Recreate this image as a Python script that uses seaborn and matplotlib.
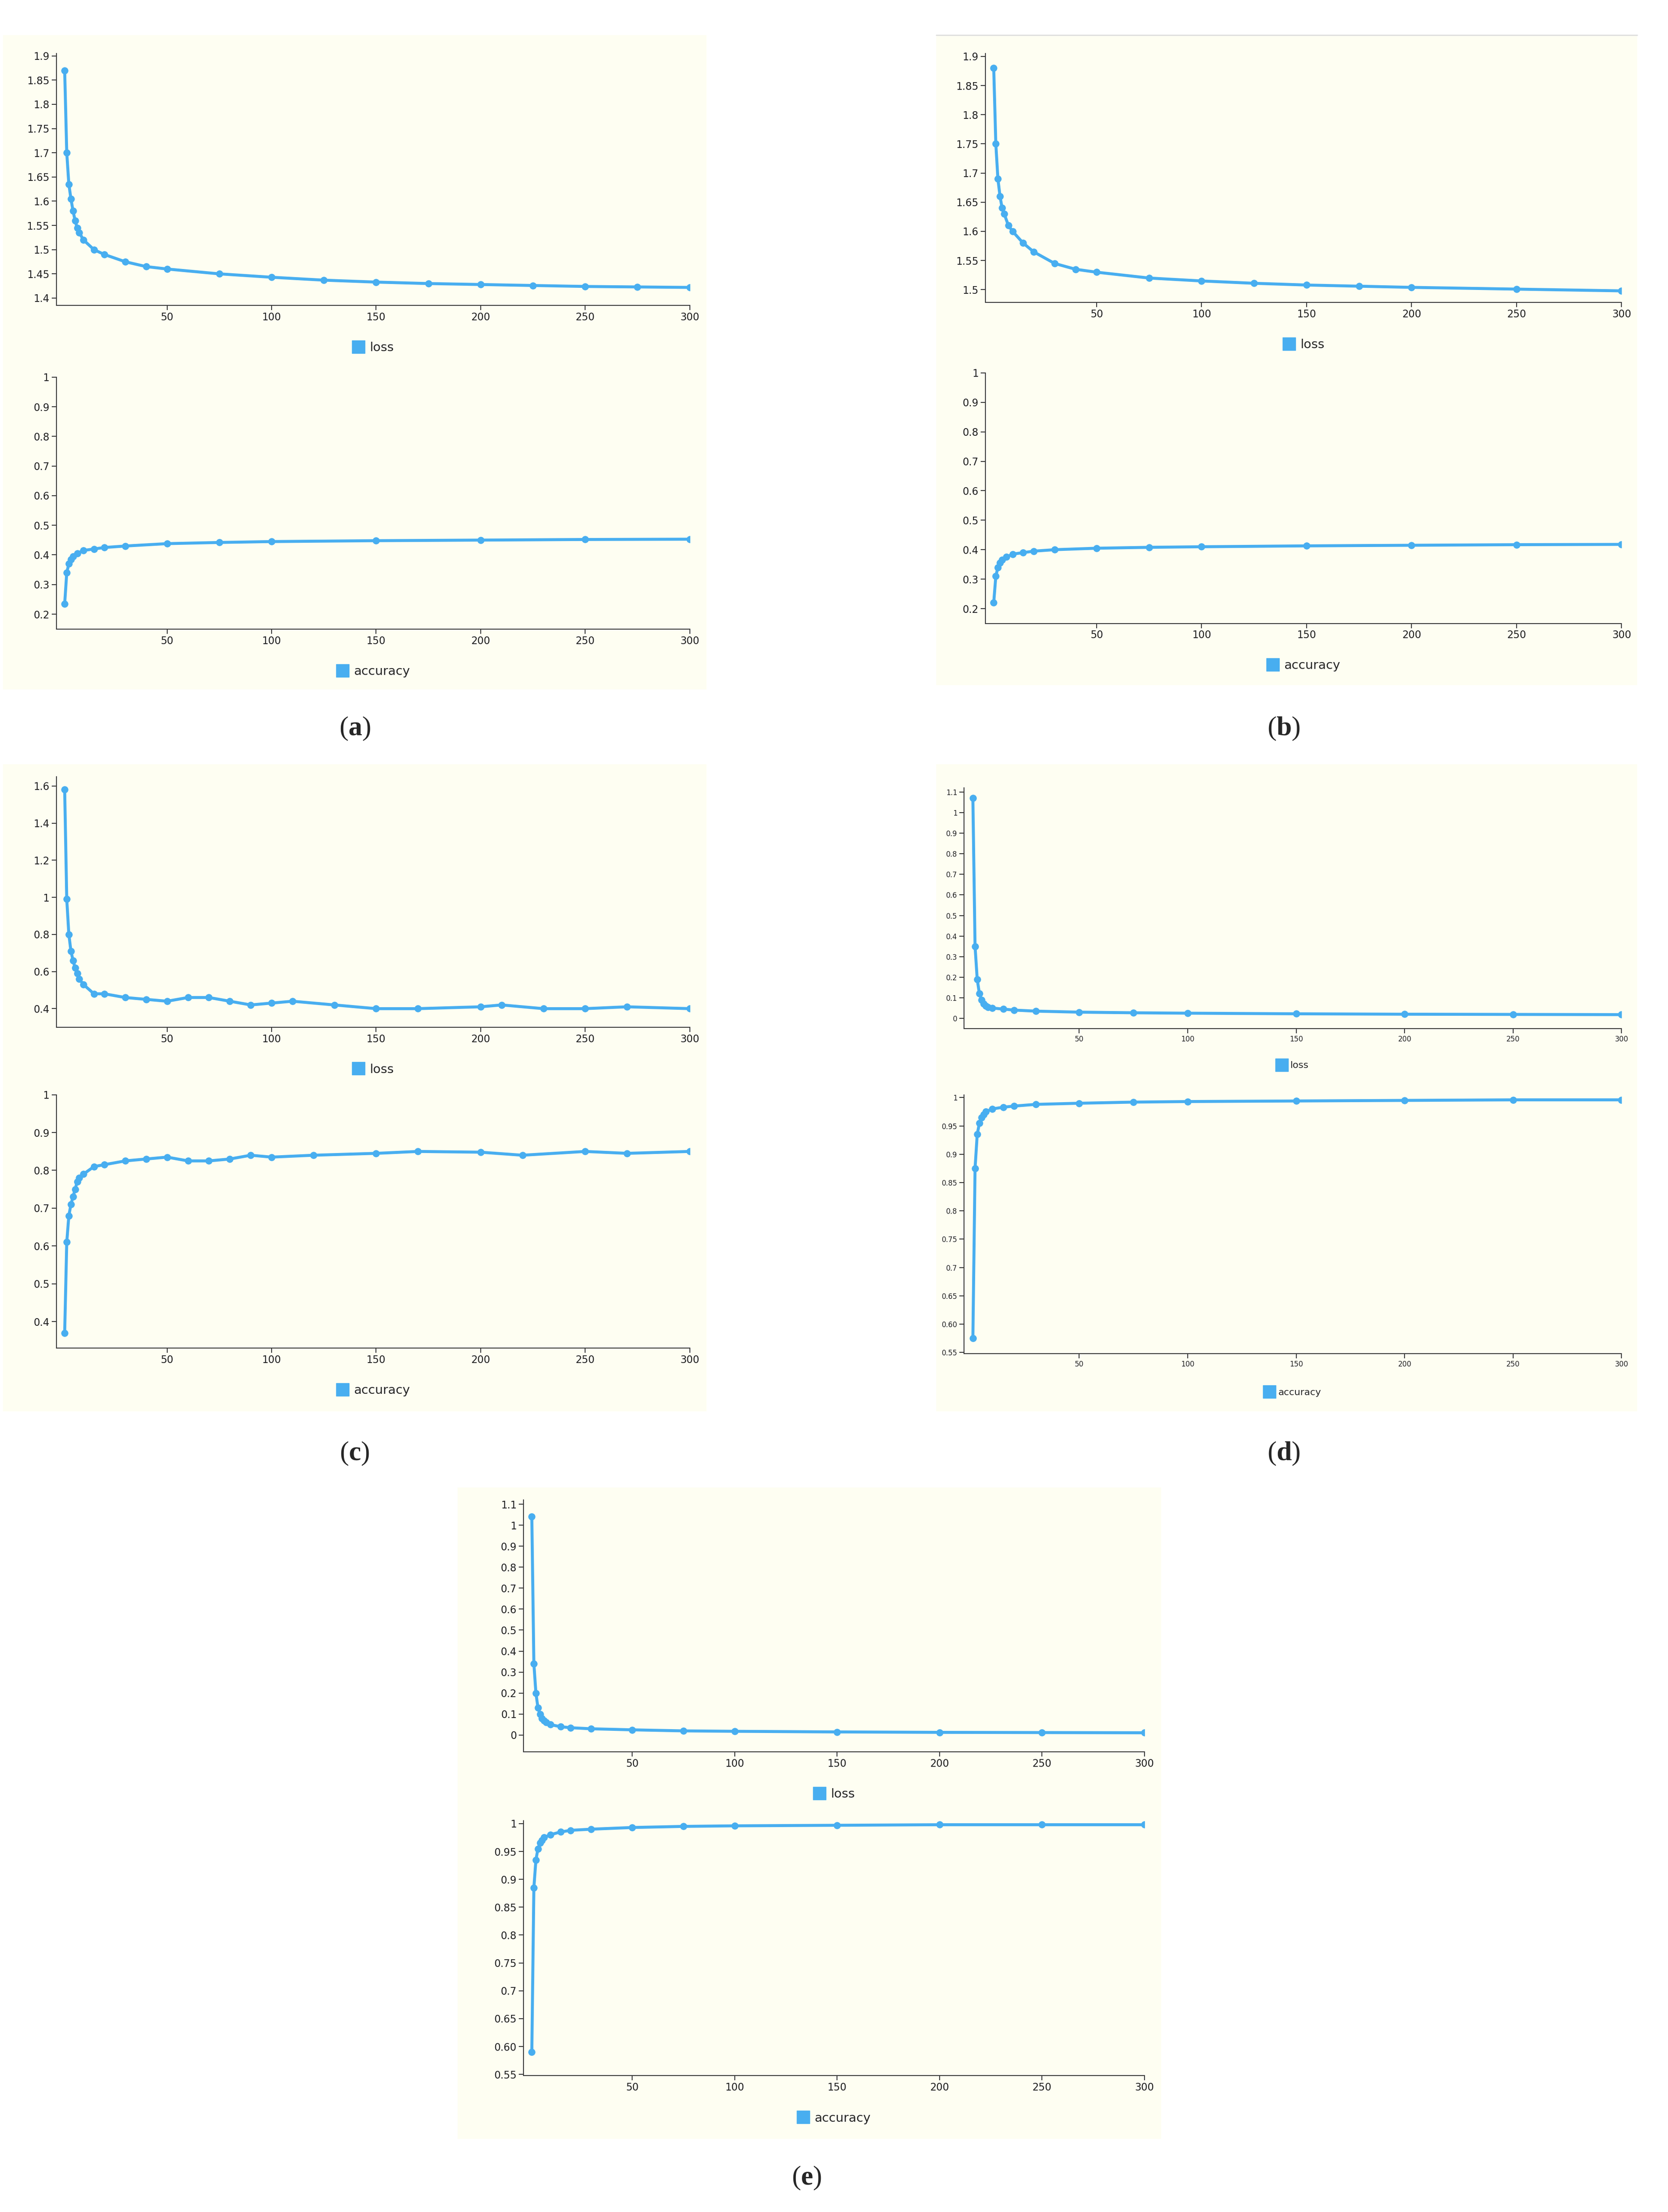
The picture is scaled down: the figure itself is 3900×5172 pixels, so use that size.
import matplotlib
matplotlib.use("Agg")
import matplotlib.pyplot as plt
from matplotlib.lines import Line2D
from matplotlib.patches import Rectangle
import seaborn as sns
import pandas as pd

sns.set_theme(style="white")
plt.rcParams['font.family'] = ['DejaVu Sans']
plt.rcParams['mathtext.fontset'] = 'custom'
plt.rcParams['mathtext.rm'] = 'Liberation Serif'
plt.rcParams['mathtext.bf'] = 'Liberation Serif:bold'

COLOR = "#48aef0"
BG = "#fefef2"

# ---------------- data ----------------
a_loss_ep = [1,2,3,4,5,6,7,8,10,15,20,30,40,50,75,100,125,150,175,200,225,250,275,300]
a_loss = [1.87,1.70,1.635,1.605,1.58,1.56,1.545,1.535,1.52,1.50,1.49,1.475,1.465,1.46,1.45,1.443,1.437,1.433,1.43,1.428,1.426,1.424,1.423,1.422]
a_acc_ep = [1,2,3,4,5,7,10,15,20,30,50,75,100,150,200,250,300]
a_acc = [0.235,0.34,0.37,0.385,0.395,0.405,0.415,0.42,0.425,0.43,0.438,0.442,0.445,0.448,0.45,0.452,0.453]

b_loss_ep = [1,2,3,4,5,6,8,10,15,20,30,40,50,75,100,125,150,175,200,250,300]
b_loss = [1.88,1.75,1.69,1.66,1.64,1.63,1.61,1.60,1.58,1.565,1.545,1.535,1.53,1.52,1.515,1.511,1.508,1.506,1.504,1.501,1.498]
b_acc_ep = [1,2,3,4,5,7,10,15,20,30,50,75,100,150,200,250,300]
b_acc = [0.22,0.31,0.34,0.355,0.365,0.375,0.385,0.39,0.395,0.4,0.405,0.408,0.41,0.413,0.415,0.417,0.418]

c_loss_ep = [1,2,3,4,5,6,7,8,10,15,20,30,40,50,60,70,80,90,100,110,130,150,170,200,210,230,250,270,300]
c_loss = [1.58,0.99,0.80,0.71,0.66,0.62,0.59,0.56,0.53,0.48,0.48,0.46,0.45,0.44,0.46,0.46,0.44,0.42,0.43,0.44,0.42,0.40,0.40,0.41,0.42,0.40,0.40,0.41,0.40]
c_acc_ep = [1,2,3,4,5,6,7,8,10,15,20,30,40,50,60,70,80,90,100,120,150,170,200,220,250,270,300]
c_acc = [0.37,0.61,0.68,0.71,0.73,0.75,0.77,0.78,0.79,0.81,0.815,0.825,0.83,0.835,0.825,0.825,0.83,0.84,0.835,0.84,0.845,0.85,0.848,0.84,0.85,0.845,0.85]

d_loss_ep = [1,2,3,4,5,6,7,8,10,15,20,30,50,75,100,150,200,250,300]
d_loss = [1.07,0.35,0.19,0.12,0.09,0.07,0.06,0.055,0.05,0.045,0.04,0.035,0.03,0.027,0.025,0.022,0.02,0.019,0.018]
d_acc_ep = [1,2,3,4,5,6,7,10,15,20,30,50,75,100,150,200,250,300]
d_acc = [0.575,0.875,0.935,0.955,0.965,0.97,0.975,0.98,0.983,0.985,0.988,0.99,0.992,0.993,0.994,0.995,0.996,0.996]

e_loss_ep = [1,2,3,4,5,6,7,8,10,15,20,30,50,75,100,150,200,250,300]
e_loss = [1.04,0.34,0.20,0.13,0.10,0.08,0.07,0.06,0.05,0.04,0.035,0.03,0.025,0.02,0.018,0.015,0.013,0.012,0.011]
e_acc_ep = [1,2,3,4,5,6,7,10,15,20,30,50,75,100,150,200,250,300]
e_acc = [0.59,0.885,0.935,0.955,0.965,0.97,0.975,0.98,0.985,0.988,0.99,0.993,0.995,0.996,0.997,0.998,0.998,0.998]

x_ticks = [50,100,150,200,250,300]

W, H = 1185.0, 1572.0
fig = plt.figure(figsize=(39, 51.72), dpi=100)

def frac(x0, y0, x1, y1):
    return [x0/W, 1-y1/H, (x1-x0)/W, (y1-y0)/H]

def bg(x0, y0, x1, y1):
    fig.patches.append(Rectangle((x0/W, 1-y1/H), (x1-x0)/W, (y1-y0)/H,
                                 transform=fig.transFigure, facecolor=BG,
                                 edgecolor="none", zorder=-5))

def panel(box, ep, vals, label, ylim, yticks, yfmt, fs=17):
    ax = fig.add_axes(frac(*box))
    ax.set_facecolor("none")
    df = pd.DataFrame({"epoch": ep, "v": vals})
    sns.lineplot(data=df, x="epoch", y="v", ax=ax, color=COLOR, lw=5,
                 marker="o", markersize=12, markeredgewidth=0)
    ax.set_xlim(-3, 300)
    ax.set_ylim(*ylim)
    ax.set_xticks(x_ticks)
    ax.set_yticks(yticks)
    ax.set_yticklabels([yfmt(t) for t in yticks])
    ax.set_xlabel(""); ax.set_ylabel("")
    for s in ["top", "right"]:
        ax.spines[s].set_visible(False)
    for s in ["left", "bottom"]:
        ax.spines[s].set_color("#333333"); ax.spines[s].set_linewidth(1.5)
    ax.tick_params(axis="both", labelsize=fs, length=8, width=1.5,
                   color="#333333", labelcolor="#222222", left=True, bottom=True)
    h = Line2D([], [], marker="s", color=COLOR, lw=0, markersize=22)
    ax.legend([h], [label], loc="upper center", bbox_to_anchor=(0.5, -0.1),
              frameon=False, fontsize=fs+4, handletextpad=0.4, handlelength=1)
    return ax

def f(t):
    return ("%.2f" % t).rstrip("0").rstrip(".")

def f60(t):
    return "1" if t == 1.0 else ("0.60" if abs(t-0.6) < 1e-9 else f(t))

# panel a
bg(2, 25, 502, 490)
panel((40, 38, 490, 217), a_loss_ep, a_loss, "loss", (1.385, 1.905),
      [1.4,1.45,1.5,1.55,1.6,1.65,1.7,1.75,1.8,1.85,1.9], f)
panel((40, 268, 490, 447), a_acc_ep, a_acc, "accuracy", (0.15, 1.0),
      [0.2,0.3,0.4,0.5,0.6,0.7,0.8,0.9,1.0], f)
# panel b
bg(665, 25, 1163, 487)
fig.lines.append(Line2D([665/W, 1163/W], [1-25/H, 1-25/H], transform=fig.transFigure, color="#dddddd", lw=2))
panel((700, 38, 1152, 215), b_loss_ep, b_loss, "loss", (1.478, 1.905),
      [1.5,1.55,1.6,1.65,1.7,1.75,1.8,1.85,1.9], f)
panel((700, 265, 1152, 443), b_acc_ep, b_acc, "accuracy", (0.15, 1.0),
      [0.2,0.3,0.4,0.5,0.6,0.7,0.8,0.9,1.0], f)
# panel c
bg(2, 543, 502, 1003)
panel((40, 552, 490, 730), c_loss_ep, c_loss, "loss", (0.3, 1.65),
      [0.4,0.6,0.8,1.0,1.2,1.4,1.6], f)
panel((40, 778, 490, 958), c_acc_ep, c_acc, "accuracy", (0.33, 1.0),
      [0.4,0.5,0.6,0.7,0.8,0.9,1.0], f)
# panel d
bg(665, 543, 1163, 1003)
panel((685, 560, 1152, 731), d_loss_ep, d_loss, "loss", (-0.05, 1.12),
      [0,0.1,0.2,0.3,0.4,0.5,0.6,0.7,0.8,0.9,1.0,1.1], f, fs=12)
panel((685, 778, 1152, 962), d_acc_ep, d_acc, "accuracy", (0.548, 1.005),
      [0.55,0.6,0.65,0.7,0.75,0.8,0.85,0.9,0.95,1.0], f60, fs=12)
# panel e
bg(325, 1057, 825, 1520)
panel((372, 1066, 813, 1245), e_loss_ep, e_loss, "loss", (-0.08, 1.12),
      [0,0.1,0.2,0.3,0.4,0.5,0.6,0.7,0.8,0.9,1.0,1.1], f)
panel((372, 1294, 813, 1475), e_acc_ep, e_acc, "accuracy", (0.548, 1.005),
      [0.55,0.6,0.65,0.7,0.75,0.8,0.85,0.9,0.95,1.0], f60)

# captions
for x, y, l in [(252, 518, "a"), (912, 518, "b"), (252, 1033, "c"), (912, 1033, "d"), (573, 1548, "e")]:
    fig.text(x/W, 1-y/H, r"$\mathrm{(}\mathbf{%s}\mathrm{)}$" % l, ha="center", va="center", fontsize=46)

fig.savefig("out.png", dpi=100, facecolor="white")
